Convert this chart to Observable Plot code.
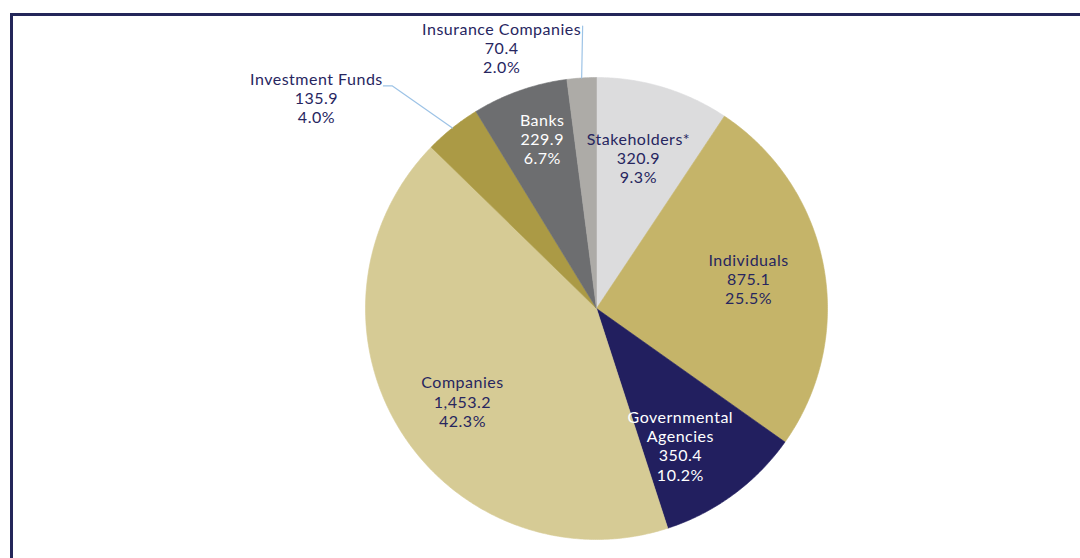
<!DOCTYPE html>
<html><head><meta charset="utf-8">
<script src="https://cdn.jsdelivr.net/npm/d3@7"></script>
<script src="https://cdn.jsdelivr.net/npm/@observablehq/plot@0.6"></script>
<style>html,body{margin:0;padding:0;background:#fff;overflow:hidden}</style>
</head><body><div id="chart"></div>
<script>
// ---- data ----
const categories = ["Stakeholders*", "Individuals", "Governmental Agencies", "Companies", "Investment Funds", "Banks", "Insurance Companies"];
const values = [320.9, 875.1, 350.4, 1453.2, 135.9, 229.9, 70.4];
const sliceColors = ["#dcdcdd", "#c5b469", "#221f5f", "#d6cb95", "#ab9a45", "#6d6e70", "#adaba7"];

// ---- layout ----
const W = 1080, H = 558, CX = 596, CY = 308, R = 231;
const NAVY = "#27265f", LEADER = "#9dc3e6";
// inside label placement: radius (fraction of R) and angular shift (degrees) from slice middle
const inside = {
  "Stakeholders*": {r: 0.678, da: -1.3},
  "Individuals": {r: 0.671, da: -0.6},
  "Governmental Agencies": {r: 0.696, da: 4.9},
  "Companies": {r: 0.706, da: -2.9},
  "Banks": {r: 0.772, da: 1.7}
};
const whiteText = new Set(["Governmental Agencies", "Banks"]);
// outside labels: offsets in px from the slice's outer arc point
const outside = {
  "Investment Funds": {text: [-136, -30], leader: [[-60, -42], [-69, -42]]},
  "Insurance Companies": {text: [-80, -30], leader: [[1, -52]]}
};

const total = d3.sum(values);
const pie = d3.pie().sort(null).value(d => d)(values);
const fmtV = d3.format(",.1f"), fmtP = d3.format(".1f");
const deg = Math.PI / 180;

// slice polygons in unit-circle coordinates (y up)
const polys = [];
pie.forEach((p, i) => {
  const name = categories[i];
  polys.push({name, x: 0, y: 0});
  const n = Math.max(2, Math.ceil((p.endAngle - p.startAngle) / (Math.PI / 360)));
  for (let k = 0; k <= n; k++) {
    const a = p.startAngle + (p.endAngle - p.startAngle) * k / n;
    polys.push({name, x: Math.sin(a), y: Math.cos(a)});
  }
  polys.push({name, x: 0, y: 0});
});

const labels = [], leaders = [];
pie.forEach((p, i) => {
  const name = categories[i];
  const a = (p.startAngle + p.endAngle) / 2;
  const text = name.replace("Governmental ", "Governmental\n") + "\n" + fmtV(values[i]) + "\n" + fmtP(values[i] / total * 100) + "%";
  const o = outside[name];
  if (o) {
    const ox = Math.sin(a), oy = Math.cos(a);
    labels.push({text, x: ox + o.text[0] / R, y: oy - o.text[1] / R, white: false});
    leaders.push({name, x: ox, y: oy});
    o.leader.forEach(([dx, dy]) => leaders.push({name, x: ox + dx / R, y: oy - dy / R}));
  } else {
    const s = inside[name] ?? {r: 0.68, da: 0};
    const b = a + s.da * deg;
    labels.push({text, x: s.r * Math.sin(b), y: s.r * Math.cos(b), white: whiteText.has(name)});
  }
});

const chart = Plot.plot({
  width: W, height: H,
  marginTop: 14, marginLeft: 11, marginRight: 0, marginBottom: 0,
  x: {domain: [-1, 1], range: [CX - R, CX + R], axis: null},
  y: {domain: [-1, 1], range: [CY + R, CY - R], axis: null},
  color: {type: "ordinal", domain: categories, range: sliceColors},
  style: {fontFamily: "Lato, sans-serif", background: "#fff", letterSpacing: "0.5px"},
  marks: [
    Plot.frame({anchor: "top", stroke: "#232659", strokeWidth: 3}),
    Plot.frame({anchor: "left", stroke: "#232659", strokeWidth: 3}),
    Plot.line(polys, {x: "x", y: "y", z: "name", fill: "name", stroke: "name", strokeWidth: 0.6}),
    Plot.line(leaders, {x: "x", y: "y", z: "name", stroke: LEADER, strokeWidth: 1.2}),
    Plot.text(labels, {filter: d => !d.white, x: "x", y: "y", text: "text", fill: NAVY, fontSize: 16, lineHeight: 1.2}),
    Plot.text(labels, {filter: d => d.white, x: "x", y: "y", text: "text", fill: "#ffffff", fontSize: 16, lineHeight: 1.2})
  ]
});
document.getElementById("chart").appendChild(chart);
</script>
</body></html>
